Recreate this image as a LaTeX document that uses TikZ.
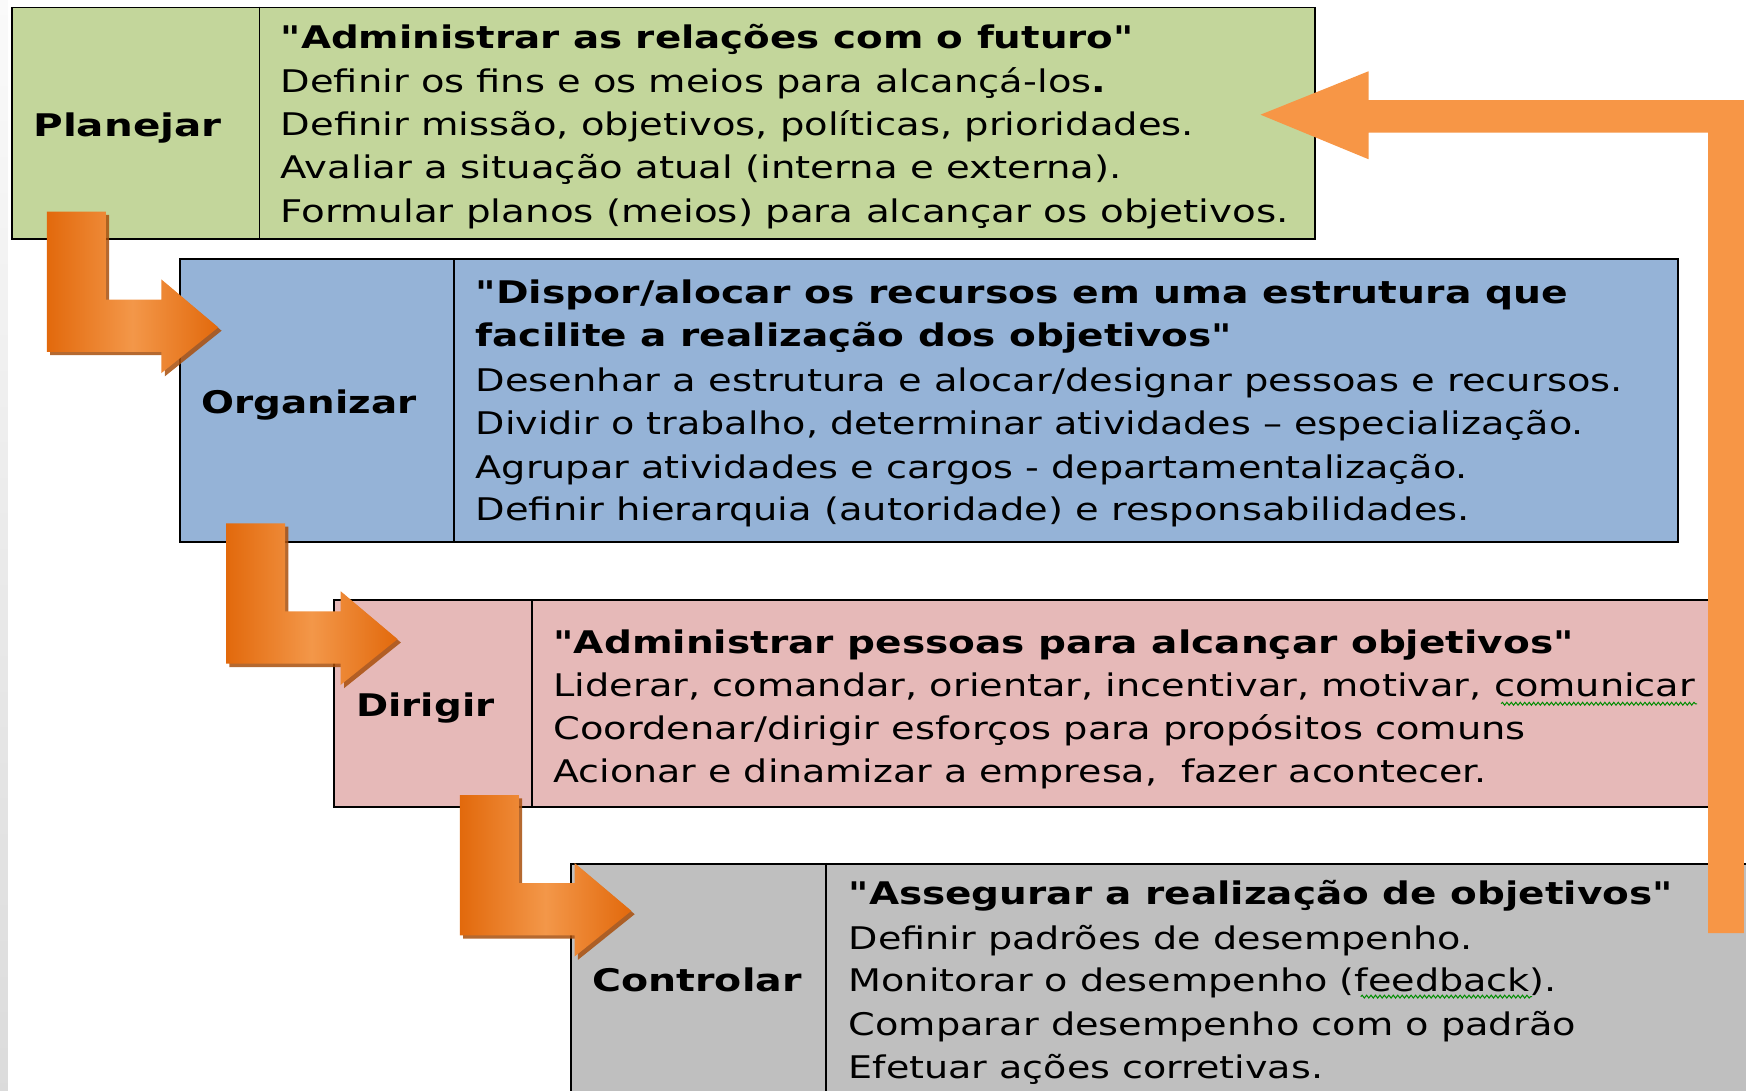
\documentclass[tikz,border=0pt]{standalone}
\usepackage{fontspec}
\usepackage{graphicx}
\setmainfont{DejaVu Sans}
\usetikzlibrary{decorations.pathmorphing}
\definecolor{cgreen}{HTML}{C3D69B}
\definecolor{cblue}{HTML}{95B3D7}
\definecolor{cpink}{HTML}{E6B9B8}
\definecolor{cgray}{HTML}{BFBFBF}
\definecolor{orlight}{HTML}{F79646}
\definecolor{ordark}{HTML}{E2690C}
\definecolor{ormid}{HTML}{F39749}
\definecolor{orshadow}{HTML}{A94F0C}
\newdimen\fitw
\newcommand\fitto[2]{\settowidth{\fitw}{#2}\scalebox{\fpeval{#1*65536/\number\fitw}}[1]{#2}}
\newcommand\qq{\textquotedbl}
\tikzset{
  body/.style={anchor=base west, inner sep=0pt, font=\fontsize{28}{34}\selectfont},
  headline/.style={anchor=base west, inner sep=0pt, font=\fontsize{28}{34}\selectfont\bfseries},
  steplabel/.style={anchor=base, inner sep=0pt, font=\fontsize{28}{34}\selectfont\bfseries},
  stagebox/.style={draw=black, line width=1.6pt, anchor=north west, inner sep=0pt},
  divider/.style={draw=black, line width=1.6pt},
  squig/.style={draw=green!55!black, line width=0.9pt, decorate, decoration={snake, amplitude=1.3pt, segment length=4pt}},
  larrow/.pic={
    \fill[orshadow, opacity=0.85] (3,3) -- (56,3) -- (56,82) -- (106,82) -- (106,64) -- (157,107) -- (106,148) -- (106,129) -- (3,129) -- cycle;
    \shade[left color=ordark, right color=ordark, middle color=ormid]
      (0,0) -- (53,0) -- (53,79) -- (103,79) -- (103,61) -- (154,104) -- (103,145) -- (103,126) -- (0,126) -- cycle;
  }
}
\begin{document}
\begin{tikzpicture}[x=1pt,y=-1pt]
\clip (0,0) rectangle (1568,979);
\fill[white] (0,0) rectangle (1568,979);
\shade[top color=gray!4, bottom color=gray!28] (0,0) rectangle (7,979);

% boxes
\node[stagebox, fill=cgreen, minimum width=1170pt, minimum height=208pt] (plan) at (10,6) {};
\draw[divider] (233,6) -- (233,214);
\node[stagebox, fill=cblue, minimum width=1345pt, minimum height=254pt] (org) at (161,232) {};
\draw[divider] (408,232) -- (408,486);
\node[stagebox, fill=cpink, minimum width=1260pt, minimum height=186pt] (dir) at (299,538) {};
\draw[divider] (478,538) -- (478,724);
\node[stagebox, fill=cgray, minimum width=1200pt, minimum height=300pt] (ctl) at (512,775) {};
\draw[divider] (742,775) -- (742,1000);

% labels
\node[steplabel] (lplan) at (114.5,122.5) {\fitto{169}{Planejar}};
\node[steplabel] (lorg) at (277.5,371.5) {\fitto{193}{Organizar}};
\node[steplabel] (ldir) at (382,643.5) {\fitto{124}{Dirigir}};
\node[steplabel] (lctl) at (626,890.5) {\fitto{188}{Controlar}};

% Planejar text
\node[headline] (p1) at (252,43.5) {\fitto{766}{\qq Administrar as relações com o futuro\qq}};
\node[body] (p2) at (252,83.5) {\fitto{741}{Definir os fins e os meios para alcançá-los\textbf{.}}};
\node[body] (p3) at (252,121.5) {\fitto{820}{Definir missão, objetivos, políticas, prioridades.}};
\node[body] (p4) at (252,160.5) {\fitto{755}{Avaliar a situação atual (interna e externa).}};
\node[body] (p5) at (252,199.5) {\fitto{905}{Formular planos (meios) para alcançar os objetivos.}};

% Organizar text
\node[headline] (o1) at (427,272.5) {\fitto{981}{\qq Dispor/alocar os recursos em uma estrutura que}};
\node[headline] (o2) at (427,311.5) {\fitto{679}{facilite a realização dos objetivos\qq}};
\node[body] (o3) at (427,351.5) {\fitto{1030}{Desenhar a estrutura e alocar/designar pessoas e recursos.}};
\node[body] (o4) at (427,390.5) {\fitto{995}{Dividir o trabalho, determinar atividades – especialização.}};
\node[body] (o5) at (427,429.5) {\fitto{891}{Agrupar atividades e cargos - departamentalização.}};
\node[body] (o6) at (427,467.5) {\fitto{893}{Definir hierarquia (autoridade) e responsabilidades.}};

% Dirigir text
\node[headline] (d1) at (497,586.5) {\fitto{916}{\qq Administrar pessoas para alcançar objetivos\qq}};
\node[body] (d2) at (497,625.5) {\fitto{1025}{Liderar, comandar, orientar, incentivar, motivar, comunicar}};
\node[body] (d3) at (497,664.5) {\fitto{873}{Coordenar/dirigir esforços para propósitos comuns}};
\node[body] (d4) at (497,702.5) {\fitto{838}{Acionar e dinamizar a empresa,\ \ fazer acontecer.}};

% Controlar text
\node[headline] (c1) at (762,812.5) {\fitto{740}{\qq Assegurar a realização de objetivos\qq}};
\node[body] (c2) at (762,852.5) {\fitto{560}{Definir padrões de desempenho.}};
\node[body] (c3) at (762,890.5) {\fitto{636}{Monitorar o desempenho (feedback).}};
\node[body] (c4) at (762,929.5) {\fitto{653}{Comparar desempenho com o padrão}};
\node[body] (c5) at (762,968.5) {\fitto{426}{Efetuar ações corretivas.}};

% spell-check squiggles
\draw[squig] (1348,632) -- (1524,632);
\draw[squig] (1222,895) -- (1376,895);

% step arrows
\pic at (42,190) {larrow};
\pic at (203,470) {larrow};
\pic at (413,714) {larrow};

% feedback arrow
\fill[orlight] (1534,838) -- (1534,119) -- (1229,119) -- (1229,143) -- (1132,103) -- (1229,64) -- (1229,90) -- (1566,90) -- (1566,838) -- cycle;
\end{tikzpicture}
\end{document}
